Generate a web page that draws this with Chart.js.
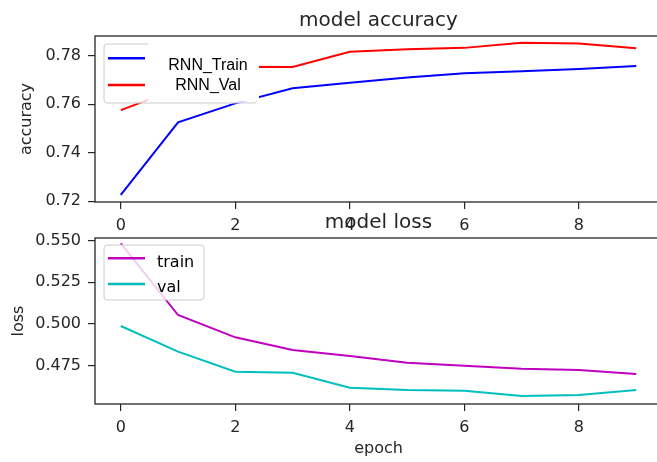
<!DOCTYPE html>
<html><head><meta charset="utf-8">
<script src="https://cdn.jsdelivr.net/npm/chart.js@4/dist/chart.umd.min.js"></script>
<style>
html,body{margin:0;padding:0;background:#fff;overflow:hidden;width:657px;height:462px;}
canvas{position:absolute;left:0;}
#c1{top:0}
#c2{top:202px}
</style></head><body>
<canvas id="c1" width="700" height="232"></canvas>
<canvas id="c2" width="700" height="260"></canvas>
<script>
const epochs = [0,1,2,3,4,5,6,7,8,9];
const rnnTrainAcc = [0.7226,0.7526,0.7604,0.7666,0.7689,0.7711,0.7728,0.7737,0.7746,0.7758];
const rnnValAcc   = [0.7576,0.7665,0.7755,0.7754,0.7817,0.7827,0.7833,0.7854,0.7851,0.7831];
const trainLoss   = [0.5484,0.5054,0.4920,0.4844,0.4808,0.4768,0.4750,0.4732,0.4724,0.4700];
const valLoss     = [0.4988,0.4834,0.4714,0.4708,0.4618,0.4604,0.4600,0.4568,0.4574,0.4604];
const xTicks = [0,2,4,6,8];
const accTicks = [0.72,0.74,0.76,0.78];
const lossTicks = [0.475,0.500,0.525,0.550];

const TXT = '#262626';
const FONT = 'DejaVu Sans';

function pts(arr){ return epochs.map((e,i)=>({x:e,y:arr[i]})); }

const framePlugin = {
  id:'frameLegend',
  afterDatasetsDraw(chart){
    const ctx = chart.ctx, a = chart.chartArea;
    ctx.save();
    ctx.strokeStyle = '#262626';
    ctx.lineWidth = 1.3;
    ctx.strokeRect(a.left, a.top, a.right-a.left, a.bottom-a.top);
    const L = chart.options.plugins.frameLegend;
    if (L) {
      ctx.beginPath();
      ctx.roundRect(L.x, L.y, L.w, L.h, 3);
      ctx.fillStyle = 'rgba(255,255,255,0.8)';
      ctx.fill();
      ctx.strokeStyle = '#cccccc';
      ctx.lineWidth = 1;
      ctx.stroke();
      if (L.textBox) {
        ctx.fillStyle = '#ffffff';
        ctx.fillRect(L.textBox[0], L.textBox[1], L.textBox[2], L.textBox[3]);
      }
      chart.data.datasets.forEach((ds,i)=>{
        const hy = L.handleY[i];
        ctx.strokeStyle = ds.borderColor;
        ctx.lineWidth = 2.5;
        ctx.beginPath();
        ctx.moveTo(L.hx0, hy); ctx.lineTo(L.hx1, hy); ctx.stroke();
        ctx.fillStyle = '#000';
        ctx.font = L.font;
        ctx.textAlign = L.align;
        ctx.textBaseline = 'alphabetic';
        ctx.fillText(ds.label, L.tx, L.textY[i]);
      });
    }
    ctx.restore();
  }
};

function makeChart(id, sets, yTicks, yMin, yMax, title, yTitle, yTitlePad, xTitle, xH, legend, dec){
  return new Chart(document.getElementById(id), {
    type:'line',
    data:{ datasets: sets.map(s=>({label:s[0], data:pts(s[1]), borderColor:s[2], backgroundColor:s[2], borderWidth:2, pointRadius:0, tension:0, fill:false})) },
    options:{
      responsive:false, animation:false, devicePixelRatio:1,
      layout:{ padding:{left:0, top:0, right:38, bottom:0} },
      plugins:{
        legend:{display:false}, tooltip:{enabled:false},
        title:{ display:true, text:title, fullSize:false, color:TXT, font:{family:FONT, size:20, weight:'normal'}, padding:{top:9, bottom:3} },
        frameLegend: legend
      },
      scales:{
        x:{ type:'linear', min:-0.45, max:9.45,
            afterBuildTicks:s=>{ s.ticks = xTicks.map(v=>({value:v})); },
            afterFit:s=>{ s.height = xH; },
            border:{display:false},
            grid:{ drawOnChartArea:false, drawTicks:true, tickLength:7, color:'#262626', lineWidth:1.2 },
            ticks:{ color:TXT, font:{family:FONT, size:16}, padding:7, maxRotation:0, callback:v=>String(v) },
            title: xTitle ? { display:true, text:xTitle, color:TXT, font:{family:FONT, size:16}, padding:{top:0, bottom:4} } : {display:false}
        },
        y:{ type:'linear', min:yMin, max:yMax,
            afterBuildTicks:s=>{ s.ticks = yTicks.map(v=>({value:v})); },
            afterFit:s=>{ s.width = 95; },
            border:{display:false},
            grid:{ drawOnChartArea:false, drawTicks:true, tickLength:7, color:'#262626', lineWidth:1.2 },
            ticks:{ color:TXT, font:{family:FONT, size:16}, padding:7, callback:v=>v.toFixed(dec) },
            title:{ display:true, text:yTitle, color:TXT, font:{family:FONT, size:16}, padding:{top:yTitlePad, bottom:0} }
        }
      }
    },
    plugins:[framePlugin]
  });
}

makeChart('c1',
  [['RNN_Train', rnnTrainAcc, '#0000ff'], ['RNN_Val', rnnValAcc, '#ff0000']],
  accTicks, 0.7197, 0.7882, 'model accuracy', 'accuracy', 17, null, 30,
  { x:104, y:44, w:153, h:59, hx0:108, hx1:145, handleY:[58.3,85], tx:208, align:'center', textY:[70,90],
    font:'16px "Liberation Sans"', textBox:[148,43,111,58] }, 2);

makeChart('c2',
  [['train', trainLoss, '#bf00bf'], ['val', valLoss, '#00bfbf']],
  lossTicks, 0.4520, 0.5516, 'model loss', 'loss', 9.5, 'epoch', 58,
  { x:104, y:43, w:100, h:55, hx0:108, hx1:145, handleY:[56.3,82], tx:157, align:'left', textY:[64.7,89.7],
    font:'16px "DejaVu Sans"', textBox:null }, 3);
</script>
</body></html>
